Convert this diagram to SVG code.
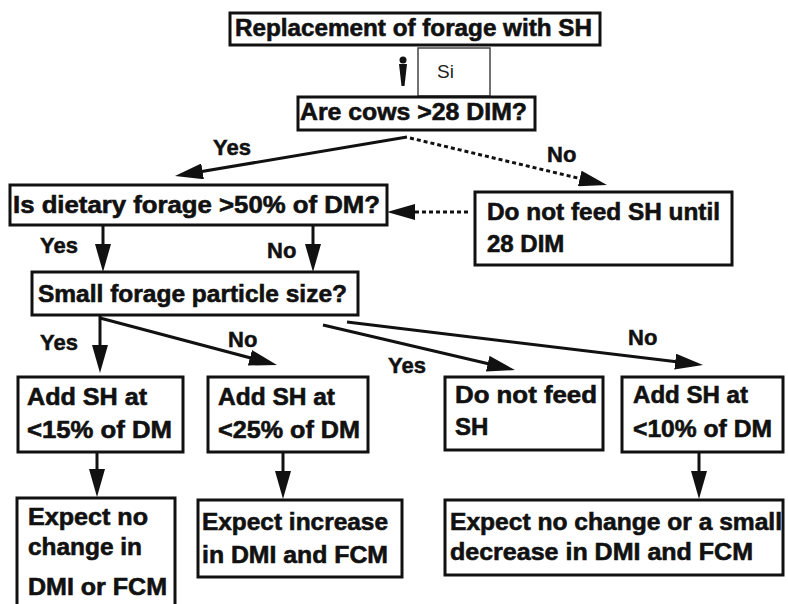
<svg xmlns="http://www.w3.org/2000/svg" width="788" height="604" viewBox="0 0 788 604">
<defs>
<style>
.box{fill:#fff;stroke:#111;stroke-width:3}
.t{font-family:"Liberation Sans",Arial,sans-serif;font-weight:bold;font-size:24px;fill:#111;stroke:#111;stroke-width:0.6}
.lbl{font-family:"Liberation Sans",Arial,sans-serif;font-weight:bold;font-size:22px;fill:#111;stroke:#111;stroke-width:0.5}
.c{fill:none;stroke:#111;stroke-width:3}
.dot{stroke-dasharray:4 3}
</style>
<marker id="ah" viewBox="0 0 28 16" refX="16" refY="8" markerWidth="28" markerHeight="16" markerUnits="userSpaceOnUse" orient="auto">
<path d="M0,0 L28,8 L0,16 Z" fill="#111"/>
</marker>
</defs>
<rect width="788" height="604" fill="#fff"/>

<g id="connectors">
<path d="M399,64 L407,64 L404.5,86 L401.5,86 Z" fill="#111"/>
<circle cx="403" cy="60" r="3.5" fill="#111"/>
<line class="c" x1="407" y1="137" x2="186.8" y2="174" marker-end="url(#ah)"/>
<line class="c dot" x1="410" y1="138" x2="595.3" y2="182.2" marker-end="url(#ah)"/>
<line class="c dot" x1="468" y1="212" x2="399" y2="212" marker-end="url(#ah)"/>
<line class="c" x1="103" y1="225" x2="103" y2="260" marker-end="url(#ah)"/>
<line class="c" x1="313" y1="225" x2="313" y2="260" marker-end="url(#ah)"/>
<line class="c" x1="100" y1="316" x2="100" y2="361" marker-end="url(#ah)"/>
<line class="c" x1="100" y1="318" x2="265.4" y2="361.9" marker-end="url(#ah)"/>
<line class="c" x1="323" y1="325" x2="503.3" y2="367.3" marker-end="url(#ah)"/>
<line class="c" x1="347" y1="322" x2="691.1" y2="363.6" marker-end="url(#ah)"/>
<line class="c" x1="97" y1="452" x2="97" y2="485" marker-end="url(#ah)"/>
<line class="c" x1="283" y1="452" x2="283" y2="487" marker-end="url(#ah)"/>
<line class="c" x1="699" y1="452" x2="699" y2="487" marker-end="url(#ah)"/>
<text class="lbl" x="213" y="155">Yes</text>
<text class="lbl" x="547" y="162">No</text>
<text class="lbl" x="40" y="253">Yes</text>
<text class="lbl" x="267" y="258">No</text>
<text class="lbl" x="40" y="350">Yes</text>
<text class="lbl" x="228" y="347">No</text>
<text class="lbl" x="388" y="373">Yes</text>
<text class="lbl" x="628" y="345">No</text>
</g>

<g id="n-start">
<rect class="box" x="230" y="13" width="370" height="32"/>
<text class="t" x="235" y="36" textLength="357" lengthAdjust="spacingAndGlyphs">Replacement of forage with SH</text>
</g>

<g id="n-si">
<rect x="418" y="48" width="72" height="48" fill="#fff" stroke="#444" stroke-width="1.5"/>
<text x="437" y="78" font-family="'Liberation Sans',Arial,sans-serif" font-size="19" fill="#222">Si</text>
</g>

<g id="n-cows">
<rect class="box" x="298" y="97" width="237" height="33"/>
<text class="t" x="300" y="120" textLength="227" lengthAdjust="spacingAndGlyphs">Are cows &gt;28 DIM?</text>
</g>

<g id="n-dietary">
<rect class="box" x="10" y="185" width="377" height="40"/>
<text class="t" x="13" y="213" textLength="367" lengthAdjust="spacingAndGlyphs">Is dietary forage &gt;50% of DM?</text>
</g>

<g id="n-wait">
<rect class="box" x="475" y="192" width="257" height="73"/>
<text class="t" x="487" y="220" textLength="233" lengthAdjust="spacingAndGlyphs">Do not feed SH until</text>
<text class="t" x="487" y="252">28 DIM</text>
</g>

<g id="n-particle">
<rect class="box" x="32" y="272" width="326" height="43"/>
<text class="t" x="38" y="302" textLength="309" lengthAdjust="spacingAndGlyphs">Small forage particle size?</text>
</g>

<g id="n-add15">
<rect class="box" x="18" y="377" width="165" height="75"/>
<text class="t" x="27" y="405" textLength="120" lengthAdjust="spacingAndGlyphs">Add SH at</text>
<text class="t" x="27" y="438" textLength="145" lengthAdjust="spacingAndGlyphs">&lt;15% of DM</text>
</g>

<g id="n-add25">
<rect class="box" x="208" y="377" width="160" height="75"/>
<text class="t" x="218" y="405" textLength="117" lengthAdjust="spacingAndGlyphs">Add SH at</text>
<text class="t" x="218" y="438" textLength="142" lengthAdjust="spacingAndGlyphs">&lt;25% of DM</text>
</g>

<g id="n-nofeed">
<rect class="box" x="445" y="377" width="158" height="73"/>
<text class="t" x="455" y="403" textLength="142" lengthAdjust="spacingAndGlyphs">Do not feed</text>
<text class="t" x="455" y="435">SH</text>
</g>

<g id="n-add10">
<rect class="box" x="622" y="377" width="161" height="75"/>
<text class="t" x="633" y="403" textLength="115" lengthAdjust="spacingAndGlyphs">Add SH at</text>
<text class="t" x="633" y="437" textLength="139" lengthAdjust="spacingAndGlyphs">&lt;10% of DM</text>
</g>

<g id="n-res1">
<rect class="box" x="17" y="498" width="158" height="112"/>
<text class="t" x="28" y="525" textLength="120" lengthAdjust="spacingAndGlyphs">Expect no</text>
<text class="t" x="28" y="555" textLength="114" lengthAdjust="spacingAndGlyphs">change in</text>
<text class="t" x="28" y="595" textLength="139" lengthAdjust="spacingAndGlyphs">DMI or FCM</text>
</g>

<g id="n-res2">
<rect class="box" x="198" y="500" width="204" height="77"/>
<text class="t" x="202" y="530" textLength="186" lengthAdjust="spacingAndGlyphs">Expect increase</text>
<text class="t" x="202" y="563" textLength="186" lengthAdjust="spacingAndGlyphs">in DMI and FCM</text>
</g>

<g id="n-res3">
<rect class="box" x="445" y="500" width="338" height="75"/>
<text class="t" x="450" y="530" textLength="332" lengthAdjust="spacingAndGlyphs">Expect no change or a small</text>
<text class="t" x="450" y="560" textLength="303" lengthAdjust="spacingAndGlyphs">decrease in DMI and FCM</text>
</g>
</svg>
